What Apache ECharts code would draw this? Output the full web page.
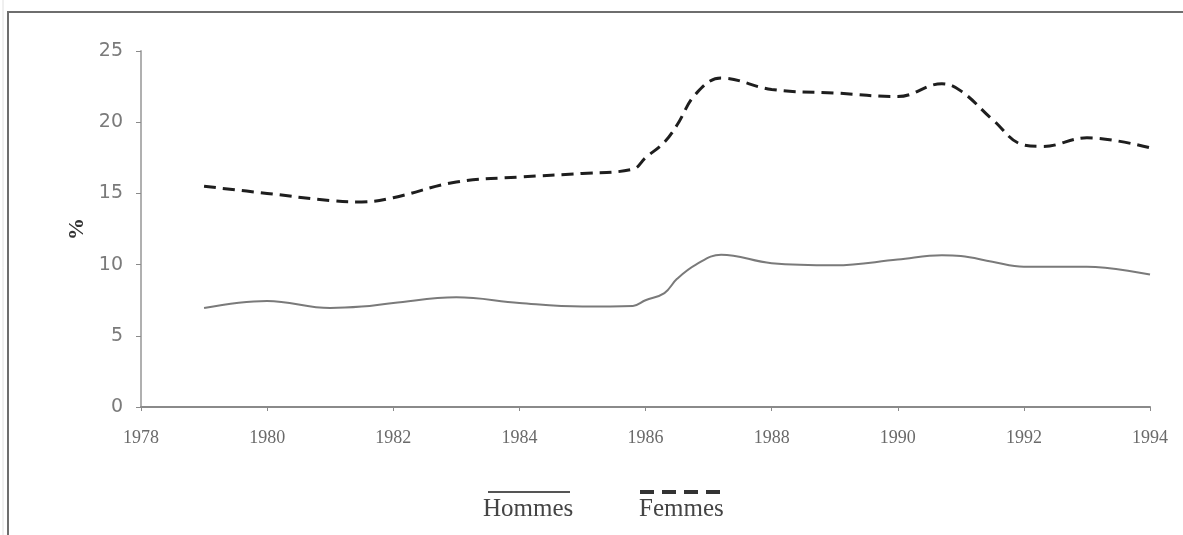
<!DOCTYPE html>
<html>
<head>
<meta charset="utf-8">
<script src="https://cdn.jsdelivr.net/npm/echarts@6/dist/echarts.min.js"></script>
<style>
  html, body { margin: 0; padding: 0; background: #fff; }
  #main { width: 1183px; height: 535px; }
</style>
</head>
<body>
<div id="main"></div>
<script>
// données (année, %)
var years = [1979, 1980, 1981, 1981.5, 1982, 1983, 1984, 1985, 1985.8, 1986, 1986.3, 1986.5, 1986.8, 1987.2, 1988, 1989, 1990, 1990.7, 1991, 1991.5, 1992, 1992.3, 1993, 1994];
var hommes = [6.95, 7.45, 6.95, 7.05, 7.3, 7.7, 7.3, 7.05, 7.1, 7.5, 8.0, 9.0, 10.0, 10.7, 10.1, 9.95, 10.35, 10.65, 10.6, 10.2, 9.85, 9.85, 9.85, 9.3];
var femmes = [15.5, 15.0, 14.5, 14.4, 14.7, 15.8, 16.15, 16.4, 16.7, 17.5, 18.6, 19.8, 22.0, 23.1, 22.3, 22.05, 21.8, 22.7, 22.2, 20.2, 18.4, 18.3, 18.9, 18.2];
var yTicks = [0, 5, 10, 15, 20, 25];
var xMin = 1978, xMax = 1994;

function pairs(vals) {
  return years.map(function (y, i) { return [y, vals[i]]; });
}

var myChart = echarts.init(document.getElementById('main'));

var option = {
  backgroundColor: '#fff',
  animation: false,
  grid: { left: 141, right: 33, top: 51, bottom: 128 },
  xAxis: {
    type: 'value',
    min: xMin,
    max: xMax,
    interval: 2,
    axisLine: { lineStyle: { color: '#8a8a8a', width: 2 } },
    axisTick: { show: true, length: 4, lineStyle: { color: '#8a8a8a' } },
    splitLine: { show: false },
    axisLabel: {
      color: '#6a6a6a',
      fontFamily: 'Liberation Serif',
      fontSize: 18,
      margin: 22,
      formatter: function (v) { return String(v); }
    }
  },
  yAxis: {
    type: 'value',
    min: yTicks[0],
    max: yTicks[yTicks.length - 1],
    interval: 5,
    name: '%',
    nameLocation: 'middle',
    nameRotate: 90,
    nameGap: 52,
    nameTextStyle: { color: '#333', fontFamily: 'Liberation Serif', fontSize: 22, fontWeight: 'bold' },
    axisLine: { show: true, lineStyle: { color: '#b0b0b0', width: 2 } },
    axisTick: { show: true, length: 5, lineStyle: { color: '#8a8a8a' } },
    splitLine: { show: false },
    axisLabel: {
      color: '#7a7a7a',
      fontFamily: 'DejaVu Sans',
      fontSize: 19,
      margin: 18
    }
  },
  series: [
    {
      name: 'Hommes',
      type: 'line',
      data: pairs(hommes),
      smooth: 0.4,
      showSymbol: false,
      lineStyle: { color: '#7a7a7a', width: 2 }
    },
    {
      name: 'Femmes',
      type: 'line',
      data: pairs(femmes),
      smooth: 0.4,
      showSymbol: false,
      lineStyle: { color: '#1e1e1e', width: 3, type: [12, 7] }
    }
  ],
  graphic: [
    // cadre
    { type: 'rect', shape: { x: 8, y: 12, width: 1200, height: 560 }, style: { fill: 'none', stroke: '#6e6e6e', lineWidth: 2 }, silent: true },
    { type: 'line', shape: { x1: 3, y1: 0, x2: 3, y2: 535 }, style: { stroke: '#e0e0e0', lineWidth: 1 }, silent: true },
    // légende
    { type: 'line', shape: { x1: 488, y1: 492, x2: 570, y2: 492 }, style: { stroke: '#555', lineWidth: 2 } },
    { type: 'text', left: 483, top: 497, style: { text: 'Hommes', font: '25px "Liberation Serif"', fill: '#444' } },
    { type: 'line', shape: { x1: 640, y1: 492, x2: 722, y2: 492 }, style: { stroke: '#333', lineWidth: 4, lineDash: [14, 8] } },
    { type: 'text', left: 639, top: 497, style: { text: 'Femmes', font: '25px "Liberation Serif"', fill: '#444' } }
  ]
};

myChart.setOption(option);
</script>
</body>
</html>
